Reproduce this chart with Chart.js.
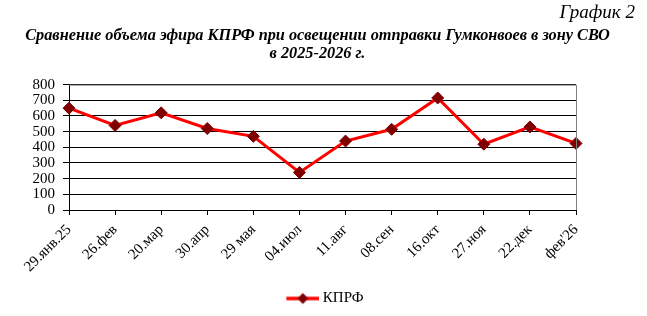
<!DOCTYPE html>
<html>
<head>
<meta charset="utf-8">
<script src="https://cdn.jsdelivr.net/npm/chart.js@4.4.0/dist/chart.umd.min.js"></script>
<style>
  html, body { margin: 0; padding: 0; background: #fff; }
  #wrap { width: 647px; height: 316px; }
</style>
</head>
<body>
<div id="wrap"><canvas id="chart"></canvas></div>
<script>
const labels = ['29.янв.25', '26.фев', '20.мар', '30.апр', '29 мая', '04.июл', '11.авг', '08.сен', '16.окт', '27.ноя', '22.дек', "фев'26"];
const kprf = [650, 540, 620, 520, 470, 240, 440, 515, 715, 420, 530, 425];
const yTicks = [0, 100, 200, 300, 400, 500, 600, 700, 800];

const serif = '"Liberation Serif", "Times New Roman", serif';

// legend icon: line with a diamond in the middle (blank space on the left
// pushes the visible item a little right of the centre, as in the original)
const ICON_W = 52;
function legendIcon() {
    const c = document.createElement('canvas');
    c.width = ICON_W; c.height = 14;
    const g = c.getContext('2d');
    const x0 = ICON_W - 33;
    g.strokeStyle = '#ff0000';
    g.lineWidth = 3.5;
    g.beginPath(); g.moveTo(x0, 7); g.lineTo(ICON_W, 7); g.stroke();
    const cx = x0 + 16.5;
    g.fillStyle = '#800000';
    g.beginPath(); g.moveTo(cx, 1.5); g.lineTo(cx + 5.5, 7); g.lineTo(cx, 12.5); g.lineTo(cx - 5.5, 7); g.closePath(); g.fill();
    return c;
}

// gray frame on top and right of the plot area
const frame = {
    id: 'frame',
    afterDraw(chart) {
        const a = chart.chartArea, ctx = chart.ctx;
        ctx.save();
        ctx.strokeStyle = '#808080';
        ctx.lineWidth = 1;
        ctx.beginPath();
        ctx.moveTo(a.left, a.top + 0.5);
        ctx.lineTo(a.right + 0.5, a.top + 0.5);
        ctx.lineTo(a.right + 0.5, a.bottom);
        ctx.stroke();
        ctx.restore();
    }
};

new Chart(document.getElementById('chart'), {
    type: 'line',
    data: {
        labels: labels,
        datasets: [{
            label: 'КПРФ',
            data: kprf,
            borderColor: '#ff0000',
            borderWidth: 3,
            tension: 0,
            pointStyle: 'rectRot',
            pointRadius: 6,
            pointBackgroundColor: '#800000',
            pointBorderColor: '#800000',
            pointBorderWidth: 1
        }]
    },
    options: {
        responsive: true,
        maintainAspectRatio: false,
        animation: false,
        layout: { padding: { left: 0, right: 12, top: 0, bottom: 0 } },
        plugins: {
            title: {
                display: true,
                text: 'График 2',
                align: 'end',
                color: '#000',
                font: { family: serif, size: 19, style: 'italic', weight: 'normal' },
                padding: { top: 2, bottom: 2 }
            },
            subtitle: {
                display: true,
                text: ['Сравнение объема эфира КПРФ при освещении отправки Гумконвоев в зону СВО', 'в 2025-2026 г.'],
                color: '#000',
                font: { family: serif, size: 16.3, style: 'italic', weight: 'bold', lineHeight: 1.1 },
                padding: { top: 0, bottom: 22 }
            },
            legend: {
                position: 'bottom',
                labels: {
                    usePointStyle: true,
                    pointStyleWidth: ICON_W - 8,
                    color: '#000',
                    padding: 0,
                    font: { family: serif, size: 15, lineHeight: 1 },
                    generateLabels: (chart) => [{
                        text: 'КПРФ',
                        pointStyle: legendIcon(),
                        fillStyle: '#800000',
                        strokeStyle: '#ff0000',
                        lineWidth: 0,
                        datasetIndex: 0
                    }]
                }
            },
            tooltip: { enabled: false }
        },
        scales: {
            x: {
                offset: false,
                afterFit: (axis) => { axis.height = 81; },
                grid: { drawOnChartArea: false, drawTicks: true, tickLength: 5, color: '#000' },
                border: { color: '#000', width: 1 },
                ticks: {
                    color: '#000',
                    maxRotation: 45,
                    minRotation: 45,
                    autoSkip: false,
                    padding: 6,
                    font: { family: serif, size: 15 }
                }
            },
            y: {
                min: 0,
                max: 800,
                afterFit: (axis) => { axis.width = 69; },
                afterBuildTicks: (axis) => { axis.ticks = yTicks.map(v => ({ value: v })); },
                grid: { color: '#000', tickLength: 6 },
                border: { color: '#000', width: 1 },
                ticks: {
                    color: '#000',
                    autoSkip: false,
                    padding: 8,
                    font: { family: serif, size: 15 }
                }
            },
            // empty right axis only reserves the blank space right of the plot
            yRight: {
                position: 'right',
                afterFit: (axis) => { axis.width = 59; },
                grid: { display: false },
                border: { display: false },
                ticks: { display: false }
            }
        }
    },
    plugins: [frame]
});
</script>
</body>
</html>
